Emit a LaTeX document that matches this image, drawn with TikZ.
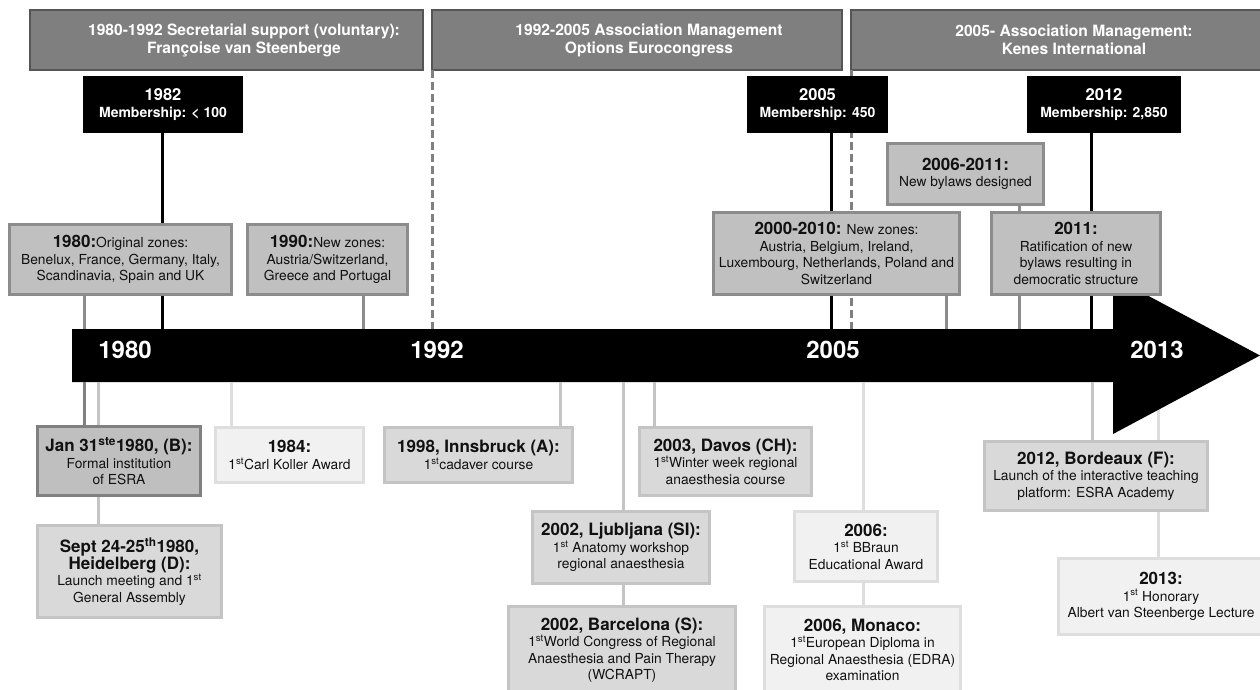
\documentclass[tikz,border=0pt]{standalone}
\usepackage{fontspec}
\setmainfont{TeX Gyre Heros}
\usetikzlibrary{calc}
\definecolor{hdrf}{HTML}{7F7F7F}
\definecolor{hdrd}{HTML}{555555}
\definecolor{zf}{HTML}{C0C0C0}
\definecolor{zd}{HTML}{8C8C8C}
\definecolor{jf}{HTML}{BFBFBF}
\definecolor{jd}{HTML}{808080}
\definecolor{mf}{HTML}{D9D9D9}
\definecolor{md}{HTML}{C4C4C4}
\definecolor{lf}{HTML}{F1F1F1}
\definecolor{ld}{HTML}{DEDEDE}
\definecolor{txt}{HTML}{111111}
\newcommand\ttl[1]{{\fontsize{17}{19}\selectfont\bfseries #1}}
\newcommand\supr[1]{\textsuperscript{#1}}
\begin{document}
\begin{tikzpicture}[x=1pt,y=-1pt,
  every node/.style={inner sep=0pt,outer sep=0pt},
  hdr/.style={draw=hdrd,fill=hdrf,line width=2.5pt},
  htxt/.style={text=white,align=center,font=\fontsize{15.6}{18}\selectfont\bfseries},
  mem/.style={fill=black,text=white,align=center,font=\fontsize{14}{17}\selectfont\bfseries},
  zbox/.style={draw=zd,fill=zf,line width=3pt,align=center,text=txt,font=\fontsize{13.8}{16.5}\selectfont},
  jbox/.style={zbox,draw=jd,fill=jf},
  mbox/.style={zbox,draw=md,fill=mf},
  lbox/.style={zbox,draw=ld,fill=lf},
  year/.style={text=white,font=\fontsize{24}{26}\selectfont\bfseries},
  bl/.style={draw=black,line width=3pt},
  gl/.style={draw=zd,line width=3pt},
  dl/.style={draw=jd,line width=3pt},
  ml/.style={draw=md,line width=3pt},
  ll/.style={draw=ld,line width=3pt},
  dsh/.style={draw=jd,line width=3pt,dash pattern=on 8pt off 4pt}]
\useasboundingbox (0,0) rectangle (1260,690);

% coordinates on the bar (top = 329, bottom = 382)
\foreach \x in {84,162,363,432,831,851,946,1019,1091}{\coordinate (bt\x) at (\x,329);}
\foreach \x in {84,98,231,560,623,654,863,1092,1158}{\coordinate (bb\x) at (\x,382);}

% header boxes
\node[hdr,minimum width=393,minimum height=60] (h1) at (226.5,40) {};
\node[hdr,minimum width=410,minimum height=60] (h2) at (637,40) {};
\node[hdr,minimum width=410,minimum height=60] (h3) at (1056,40) {};
\node[htxt] (h1t) at (244,40) {1980-1992 Secretarial support (voluntary):\\Françoise van Steenberge};
\node[htxt] (h2t) at (649,40) {1992-2005 Association Management\\Options Eurocongress};
\node[htxt] (h3t) at (1074,40) {2005- Association Management:\\Kenes International};

% period borders (dashed)
\draw[dsh] (h2.south west -| bt432) -- (bt432);
\draw[dsh] (h3.south west -| bt851) -- (bt851);

% membership boxes and their connectors
\coordinate (m1s) at (162,133);
\coordinate (m2s) at (831,133);
\coordinate (m3s) at (1091,133);
\draw[bl] (m1s) -- (bt162);
\draw[bl] (m2s) -- (bt831);
\draw[bl] (m3s) -- (bt1091);
\node[mem,minimum width=160,minimum height=57] (m1) at (163,104.5) {{\fontsize{16.5}{18}\selectfont 1982}\\Membership: < 100};
\node[mem,minimum width=141,minimum height=57] (m2) at (817.5,104.5) {{\fontsize{16.5}{18}\selectfont 2005}\\Membership: 450};
\node[mem,minimum width=154,minimum height=57] (m3) at (1104,104.5) {{\fontsize{16.5}{18}\selectfont 2012}\\Membership: 2,850};

% connector to 2013 box (behind arrow head)
\coordinate (e2013) at (1158,557);
\draw[ll] (bb1158) -- (e2013);

% the time bar with arrow head
\fill[black] (72,329) -- (1113,329) -- (1113,277) -- (1260,355.5) -- (1113,434) -- (1113,382) -- (72,382) -- cycle;
\node[year] (y80) at (125,350) {1980};
\node[year] (y92) at (437,350) {1992};
\node[year] (y05) at (833,350) {2005};
\node[year] (y13) at (1157,350) {2013};

% upper boxes
\node[zbox,minimum width=222,minimum height=70] (z80) at (120.5,259.5) {\ttl{1980:}Original zones:\\Benelux, France, Germany, Italy,\\Scandinavia, Spain and UK};
\node[zbox,minimum width=160,minimum height=70] (z90) at (327.5,259.5) {\ttl{1990:}New zones:\\Austria/Switzerland,\\Greece and Portugal};
\node[zbox,minimum width=156,minimum height=61] (b0611) at (965.5,174) {\ttl{2006-2011:}\\New bylaws designed};
\draw[gl] (b0611.south -| bt1019) -- (bt1019);
\node[zbox,minimum width=246,minimum height=82] (z00) at (836.5,253.5) {\ttl{2000-2010:} New zones:\\Austria, Belgium, Ireland,\\Luxembourg, Netherlands, Poland and\\Switzerland};
\node[zbox,minimum width=169,minimum height=82] (r11) at (1076,253.5) {\ttl{2011:}\\Ratification of new\\bylaws resulting in\\democratic structure};

\draw[gl] (z80.south -| bt84) -- (bt84);
\draw[gl] (z90.south -| bt363) -- (bt363);
\draw[gl] (z00.south -| bt946) -- (bt946);

% lower boxes
\node[mbox,minimum width=184,minimum height=92] (sept) at (129.5,571.5) {\ttl{Sept 24-25\supr{th}1980,}\\\ttl{Heidelberg (D):}\\Launch meeting and 1\supr{st}\\General Assembly};
\draw[ml] (bb98) -- (sept.north -| bb98);
\node[jbox,minimum width=163,minimum height=69] (jan) at (119,461) {\ttl{Jan 31\supr{ste}1980, (B):}\\Formal institution\\of ESRA};
\draw[dl] (bb84) -- (jan.north -| bb84);
\node[lbox,minimum width=148,minimum height=55] (k84) at (289.5,455) {\ttl{1984:}\\1\supr{st}Carl Koller Award};
\draw[ll] (bb231) -- (k84.north -| bb231);
\node[mbox,minimum width=188,minimum height=55] (inn) at (478.5,455) {\ttl{1998, Innsbruck (A):}\\1\supr{st}cadaver course};
\draw[ml] (bb560) -- (inn.north -| bb560);
\node[mbox,minimum width=227,minimum height=87] (barc) at (622,650) {\ttl{2002, Barcelona (S):}\\1\supr{st}World Congress of Regional\\Anaesthesia and Pain Therapy\\(WCRAPT)};
\draw[ml] (bb623) -- (barc.north -| bb623);
\node[mbox,minimum width=177,minimum height=72] (lj) at (621,547.5) {\ttl{2002, Ljubljana (SI):}\\1\supr{st} Anatomy workshop\\regional anaesthesia};
\node[mbox,minimum width=172,minimum height=68] (dav) at (725.5,461.5) {\ttl{2003, Davos (CH):}\\1\supr{st}Winter week regional\\anaesthesia course};
\draw[ml] (bb654) -- (dav.north -| bb654);
\node[lbox,minimum width=196,minimum height=87] (mon) at (862.5,650) {\ttl{2006, Monaco:}\\1\supr{st}European Diploma in\\Regional Anaesthesia (EDRA)\\examination};
\draw[ll] (bb863) -- (mon.north -| bb863);
\node[lbox,minimum width=143,minimum height=70] (bb) at (866,546.5) {\ttl{2006:}\\1\supr{st} BBraun\\Educational Award};
\node[lbox,minimum width=205,minimum height=76] (h13) at (1161,596.5) {\ttl{2013:}\\1\supr{st} Honorary\\Albert van Steenberge Lecture};
\node[mbox,minimum width=223,minimum height=69] (bord) at (1096,476) {\ttl{2012, Bordeaux (F):}\\Launch of the interactive teaching\\platform: ESRA Academy};
\draw[ml] (bb1092) -- (bord.north -| bb1092);
\end{tikzpicture}
\end{document}
